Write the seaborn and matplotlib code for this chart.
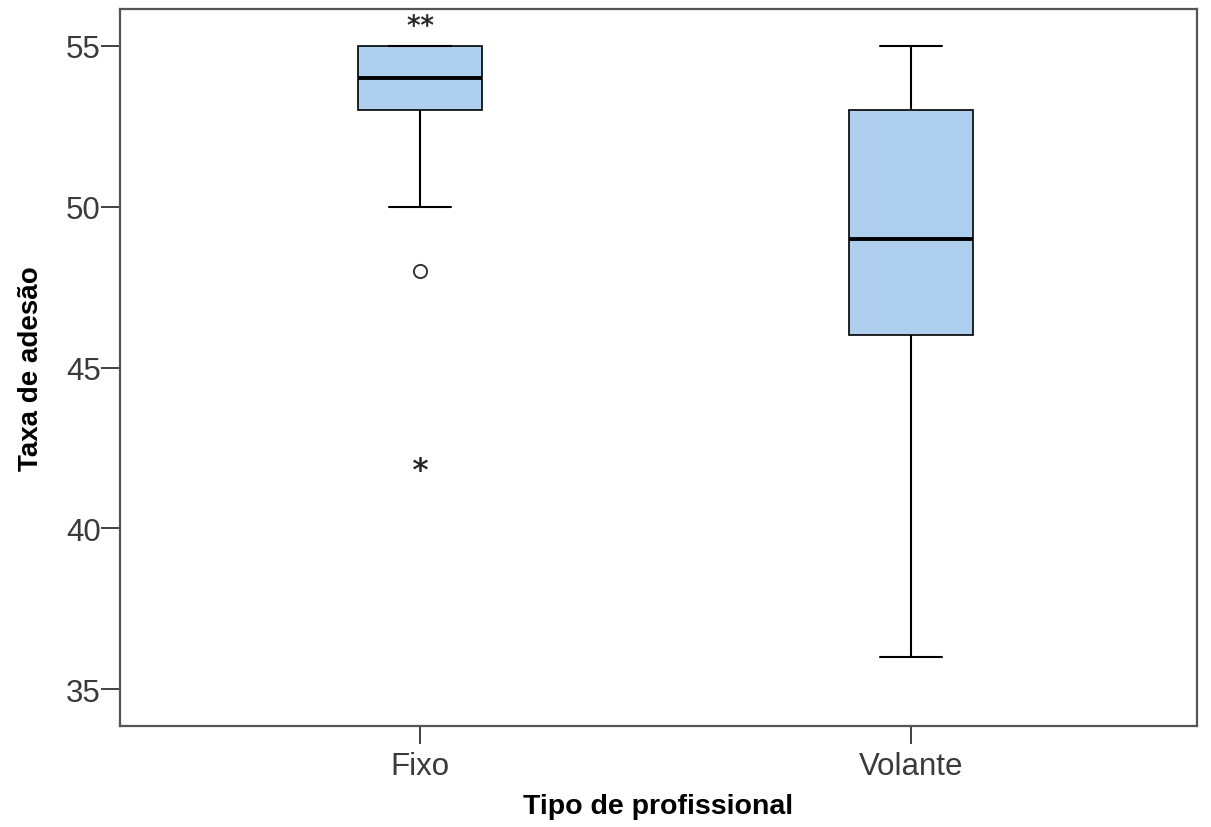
import matplotlib
matplotlib.use("Agg")
import matplotlib.pyplot as plt
import seaborn as sns
import pandas as pd

# Five-number summaries per professional type (min, Q1, median, Q3, max of whiskers)
categories = ["Fixo", "Volante"]
fixo_summary = [50, 53, 54, 55, 55]
volante_summary = [36, 46, 49, 53, 55]

# Points outside the whiskers: mild outliers (circle) and extremes (asterisk)
fixo_outliers = [48]
fixo_extremes = [42]
fixo_extremes_top = [55.8, 55.8]

x_label = "Tipo de profissional"
y_label = "Taxa de adesão"
y_ticks = [35, 40, 45, 50, 55]

sns.set_theme(style="white")
plt.rcParams["font.family"] = ["Liberation Sans", "DejaVu Sans"]

df = pd.DataFrame({
    "tipo": [categories[0]] * len(fixo_summary) + [categories[1]] * len(volante_summary),
    "taxa": fixo_summary + volante_summary,
})

fig = plt.figure(figsize=(12.11, 8.28), dpi=100)
ax = fig.add_axes([120 / 1211, 101 / 828, 1077 / 1211, 717 / 828])

box_color = "#aecfee"
sns.boxplot(
    data=df, x="tipo", y="taxa", order=categories, ax=ax,
    width=0.252, color=box_color, saturation=1, whis=1.5,
    showfliers=False, linecolor="black", linewidth=1.3,
    boxprops=dict(edgecolor="black", linewidth=1.2),
    medianprops=dict(color="black", linewidth=2.8),
    whiskerprops=dict(color="black", linewidth=1.5),
    capprops=dict(color="black", linewidth=1.5),
)

# Outlier markers for Fixo
ax.scatter([0] * len(fixo_outliers), fixo_outliers, s=90, facecolors="white",
           edgecolors="#333333", linewidths=1.4, zorder=5)
ax.scatter([0] * len(fixo_extremes), fixo_extremes, marker="${*}$", s=110,
           color="#222222", linewidths=0.4, edgecolors="#222222", zorder=5)
# the two coincident extremes are drawn side by side as "**"
ax.scatter([0], [fixo_extremes_top[0]],
           marker="$" + "{*}" * len(fixo_extremes_top) + "$",
           s=330, color="#222222", linewidths=0.4, edgecolors="#222222", zorder=5)

ax.set_xlim(-0.611, 1.582)
ax.set_ylim(33.85, 56.15)
ax.set_yticks(y_ticks)
ax.set_yticklabels([str(t) for t in y_ticks])

spine_color = "#555555"
for s in ax.spines.values():
    s.set_visible(True)
    s.set_color(spine_color)
    s.set_linewidth(1.6)

ax.tick_params(axis="y", direction="out", length=14, width=1.3, color="#333333",
               labelsize=22.5, labelcolor="#3a3a3a", pad=0, left=True)
ax.tick_params(axis="x", direction="out", length=13, width=1.3, color="#333333",
               labelsize=22.5, labelcolor="#3a3a3a", pad=5, bottom=True)

ax.set_xlabel(x_label, fontsize=20.5, fontweight="bold", color="black", labelpad=9)
ax.set_ylabel(y_label, fontsize=20, fontweight="bold", color="black", labelpad=16)
ax.grid(False)

fig.savefig("out.png", dpi=100)
